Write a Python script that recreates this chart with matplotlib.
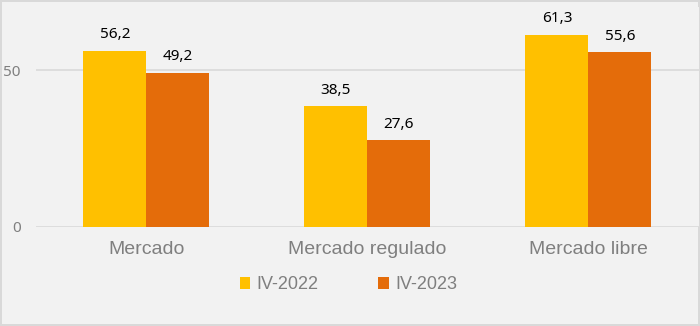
import numpy as np
import matplotlib.pyplot as plt

plt.rcParams['font.family'] = ['Liberation Sans', 'DejaVu Sans']

categorias = ['Mercado', 'Mercado regulado', 'Mercado libre']
serie_2022 = [56.2, 38.5, 61.3]
serie_2023 = [49.2, 27.6, 55.6]
etiquetas = ['IV-2022', 'IV-2023']

fig = plt.figure(figsize=(7, 3.26), dpi=100)
fig.patch.set_facecolor('#F2F2F2')
fig.patch.set_edgecolor('#D9D9D9')
fig.patch.set_linewidth(1.5)

ax = fig.add_axes([0.0514, 0.3037, 0.947, 0.674])
ax.set_facecolor('#F2F2F2')

x = np.arange(len(categorias))
w = 0.285
b1 = ax.bar(x - w / 2, serie_2022, w, color='#FFC000', label=etiquetas[0], zorder=3)
b2 = ax.bar(x + w / 2, serie_2023, w, color='#E46C0A', label=etiquetas[1], zorder=3)

for barras in (b1, b2):
    for r in barras:
        v = r.get_height()
        ax.annotate(f'{v:.1f}'.replace('.', ','),
                    (r.get_x() + r.get_width() / 2, v),
                    xytext=(0, 6), textcoords='offset points',
                    ha='center', va='bottom', fontsize=11,
                    family=['Noto Sans', 'DejaVu Sans'], color='#000000')

ax.set_xlim(-0.5, 2.5)
ax.set_ylim(0, 70)
ax.set_yticks([0, 50])
ax.yaxis.grid(True, color='#D9D9D9', linewidth=1.2, zorder=0)
ax.set_xticks(x)
ax.set_xticklabels(categorias, fontsize=14, color='#7F7F7F')
ax.tick_params(axis='x', length=0, pad=10)
ax.tick_params(axis='y', length=0, pad=11, labelsize=11, labelcolor='#7F7F7F')
for t in ax.get_yticklabels():
    t.set_family(['Noto Sans', 'DejaVu Sans'])
for s in ax.spines.values():
    s.set_visible(False)

fig.legend(loc='center', bbox_to_anchor=(0.498, 0.126), ncol=2, frameon=False,
           fontsize=13, labelcolor='#7F7F7F', handlelength=0.6, handleheight=0.6,
           handletextpad=0.35, columnspacing=3.3)

fig.savefig('out.png', dpi=100, facecolor=fig.get_facecolor(), edgecolor=fig.get_edgecolor())
